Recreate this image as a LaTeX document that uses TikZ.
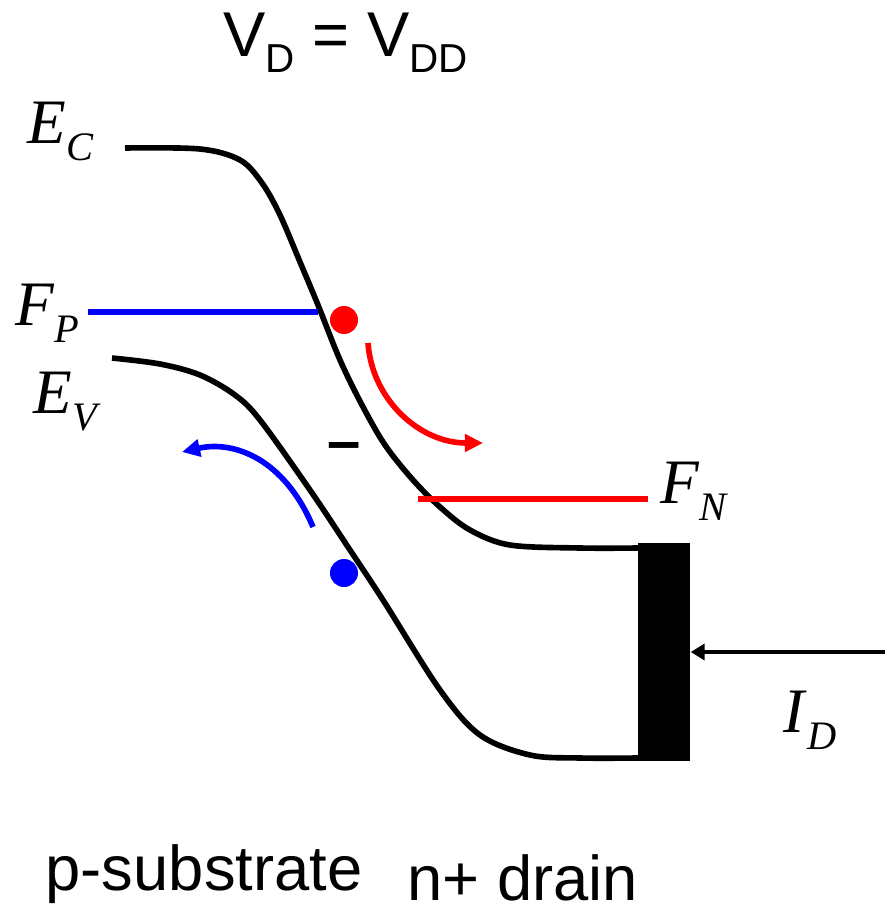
\documentclass[tikz,border=0pt]{standalone}
\usepackage{fontspec}
\setmainfont{Liberation Serif}
\setsansfont{Liberation Sans}
\usetikzlibrary{arrows.meta}
\definecolor{bdrouge}{RGB}{255,0,0}
\definecolor{bdbleu}{RGB}{0,0,255}
\newcommand{\niveau}[2]{\textit{#1}\raisebox{-0.17cm}{\fontsize{11.5}{12}\selectfont\textit{#2}}}
\newcommand{\sousind}[1]{\raisebox{-0.15cm}{\fontsize{11.5}{12}\selectfont #1}}

\begin{document}
\begin{tikzpicture}[x=0.01cm, y=-0.01cm,
  level/.style={anchor=base west, inner sep=0pt, font=\fontsize{18}{20}\selectfont},
  lab/.style={anchor=base west, inner sep=0pt, font=\sffamily\fontsize{18}{20}\selectfont},
  band/.style={line width=1.6pt, black},
  fermi/.style={line width=1.6pt},
  carrier/.style={circle, inner sep=0pt, minimum size=0.28cm},
  flow/.style={line width=1.6pt, -{Triangle[length=0.18cm, width=0.17cm]}},
  drainbox/.style={rectangle, fill=black, inner sep=0pt, minimum width=0.52cm, minimum height=2.18cm}]

  \useasboundingbox (0,0) rectangle (885,909);

  \node[lab] (vd) at (223,57) {V\sousind{D} = V\sousind{DD}};

  \draw[band] plot[smooth, tension=0.55] coordinates {(125,148) (200,149) (240,160) (262,183) (280,215)
    (300,262) (318,305) (340,360) (362,405) (385,445) (413,480) (440,507) (470,530) (510,545) (580,548) (638,548)};
  \draw[band] plot[smooth, tension=0.55] coordinates {(112,358) (160,364) (200,375) (235,395) (260,420)
    (310,490) (350,550) (383,600) (440,690) (480,735) (530,755) (580,758) (638,758)};

  \node[drainbox] (drain) at (664,652) {};

  \coordinate (fpl) at (88,312);
  \coordinate (fpr) at (318,312);
  \coordinate (fnl) at (418,499);
  \coordinate (fnr) at (648,499);
  \draw[fermi, bdbleu] (fpl) -- (fpr);
  \draw[fermi, bdrouge] (fnl) -- (fnr);

  \node[carrier, fill=bdrouge] (elec) at (344,320) {};
  \node[carrier, fill=bdbleu] (hole) at (344,573) {};

  \coordinate (es) at (368,343);
  \coordinate (ee) at (483,443);
  \coordinate (hs) at (313,527);
  \coordinate (he) at (182,452);
  \draw[flow, bdrouge] (es) .. controls (372,400) and (420,443) .. (ee);
  \draw[flow, bdbleu] (hs) .. controls (285,460) and (235,440) .. (he);

  \node[anchor=base, inner sep=0pt, font=\sffamily\bfseries\fontsize{17}{20}\selectfont] (charge) at (344,461) {–};

  \coordinate (src) at (885,652);
  \draw[line width=1.4pt, -{Triangle[length=0.14cm, width=0.16cm]}] (src) -- (drain.east);

  \node[level] (ec) at (27,143) {\niveau{E}{C}};
  \node[level] (fp) at (15,325) {\niveau{F}{P}};
  \node[level] (ev) at (33,413) {\niveau{E}{V}};
  \node[level] (fn) at (660,503) {\niveau{F}{N}};
  \node[level] (id) at (783,732) {\niveau{I}{D}};

  \node[lab] (psub) at (45,890) {p-substrate};
  \node[lab] (ndrain) at (407,900) {n+ drain};
\end{tikzpicture}
\end{document}
